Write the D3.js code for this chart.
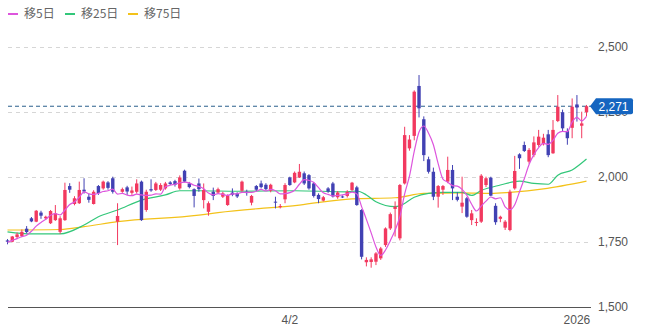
<!DOCTYPE html>
<html>
<head>
<meta charset="utf-8">
<script src="https://cdn.jsdelivr.net/npm/d3@7"></script>
<style>
  body { margin: 0; background: #fff; }
  svg { display: block; }
</style>
</head>
<body>
<svg id="chart" width="649" height="332"></svg>
<script>
// daily candles, oldest first
const opens = [1755,1750,1768,1772,1800,1840,1827,1862,1840,1821,1833,1788,1833,1964,1895,1898,1950,1923,1895,1964,
  1955,1978,1994,1827,1942,1959,1938,1942,1981,1872,1952,1949,1950,1955,1978,1983,1955,2023,1974,1952,
  1974,1910,1865,1942,1939,1923,1891,1939,1936,1946,1942,1900,1964,1974,1969,1946,1904,1883,1913,1997,
  1978,1997,2013,2006,1974,1930,1908,1955,1974,1921,1924,1926,1949,1959,1872,1671,1672,1673,1686,1737,
  1801,1876,1763,1974,2109,2157,2349,2221,2067,2019,1923,1950,1981,2026,1923,1885,1917,1833,1822,1827,
  1968,1996,1888,1838,1804,1795,1955,2086,2122,2058,2083,2122,2125,2163,2090,2214,2248,2176,2188,2278,
  2196,2248];
const highs = [1760,1772,1785,1797,1810,1845,1872,1869,1850,1872,1891,1848,1977,1975,1925,1981,1994,1935,1948,1968,
  1985,1983,2000,1898,1958,1965,1962,1990,1985,1950,1990,1980,1975,1980,1983,1988,2005,2027,1980,1955,
  1993,1974,1905,1958,1958,1942,1932,1955,1940,1985,1950,1930,1968,1985,1975,1973,1923,1895,1975,2000,
  2020,2049,2020,2010,1980,1936,1926,1960,1980,1945,1928,1948,1980,1965,1875,1690,1690,1710,1730,1805,
  1862,1905,1972,2192,2160,2332,2391,2232,2077,2035,1968,1968,2077,2045,1940,2000,1922,1872,1840,2010,
  2000,2000,1898,1850,1833,1950,2080,2090,2135,2110,2155,2180,2165,2180,2218,2314,2258,2186,2301,2314,
  2250,2276];
const lows = [1740,1748,1760,1767,1782,1825,1825,1838,1835,1818,1830,1780,1830,1938,1890,1895,1935,1900,1893,1930,
  1950,1950,1935,1737,1938,1930,1930,1935,1830,1865,1942,1945,1945,1950,1968,1962,1950,1978,1955,1882,
  1942,1878,1850,1910,1935,1918,1888,1925,1918,1942,1927,1890,1945,1955,1948,1940,1878,1878,1898,1965,
  1975,1995,1968,1950,1920,1898,1905,1938,1920,1915,1918,1920,1945,1888,1682,1655,1650,1660,1680,1730,
  1795,1770,1755,1970,2100,2140,2228,2060,2012,1910,1881,1930,1975,1910,1905,1860,1842,1814,1810,1822,
  1960,1925,1815,1825,1795,1790,1950,2030,2095,2050,2075,2115,2120,2075,2088,2210,2175,2123,2148,2212,
  2148,2232];
const closes = [1750,1770,1778,1788,1787,1828,1869,1850,1846,1868,1859,1840,1949,1950,1917,1949,1943,1911,1942,1937,
  1981,1957,1942,1849,1952,1943,1947,1974,1833,1942,1947,1974,1968,1974,1972,1969,1997,1981,1960,1926,
  1952,1949,1898,1926,1952,1936,1926,1931,1924,1981,1937,1926,1950,1960,1952,1969,1901,1887,1968,1968,
  2015,2019,1974,1955,1926,1914,1921,1943,1924,1939,1921,1942,1977,1891,1692,1680,1682,1705,1724,1801,
  1856,1885,1968,2160,2143,2327,2263,2083,2019,1923,1964,1964,2026,1955,1911,1900,1846,1859,1826,2004,
  1994,1927,1825,1846,1827,1942,2022,2071,2099,2103,2132,2154,2150,2083,2180,2269,2186,2148,2269,2266,
  2205,2271];

// moving averages
const ma5 = [1748,1755,1762,1770,1775,1790,1810,1824,1836,1852,
  1858,1853,1872,1893,1903,1921,1942,1934,1932,1936,
  1943,1946,1952,1933,1936,1929,1927,1933,1930,1928,
  1929,1934,1933,1961,1967,1971,1976,1979,1976,1967,
  1963,1954,1937,1930,1935,1932,1928,1934,1934,1940,
  1940,1940,1944,1951,1945,1951,1946,1934,1935,1939,
  1948,1971,1989,1986,1978,1958,1938,1932,1926,1928,
  1930,1934,1941,1934,1885,1836,1784,1730,1697,1718,
  1754,1794,1847,1934,2002,2097,2172,2195,2167,2123,
  2050,1991,1979,1966,1964,1951,1928,1894,1868,1887,
  1906,1922,1915,1919,1884,1873,1892,1942,1992,2047,
  2085,2112,2128,2124,2140,2167,2174,2173,2210,2228,
  2215,2232];
const ma25Idx = [0,5,11,16,19,23,28,33,36,40,48,60,71,73,75,77,81,82,85,88,91,95,97,99,103,107,110,113,115,118,121];
const ma25Val = [1788,1780,1780,1814,1846,1872,1910,1930,1946,1946,1944,1946,1942,1945,1930,1904,1885,1888,1921,1936,1940,1940,1928,1947,1968,1983,1974,1971,2006,2026,2068];
const ma75Idx = [0,11,16,23,40,44,61,72,81,87,95,101,105,112,121];
const ma75Val = [1795,1797,1808,1827,1852,1862,1891,1915,1919,1936,1938,1936,1940,1953,1983];

const yTicks = [1500, 1750, 2000, 2250, 2500];
const xLabelIdx = [59, 119];
const xLabelText = ["4/2", "2026"];
const lastPrice = 2271;

const legendNames = ["移5日", "移25日", "移75日"];
const legendColors = ["#dd55dd", "#33c77a", "#f3c21a"];

const svg = d3.select("#chart");
const n = closes.length;

const x = d3.scaleLinear().domain([0, n - 1]).range([7.5, 586.5]);
const y = d3.scaleLinear().domain([1500, 2500]).range([306.7, 46.7]);

const left = 8, right = 591;

// grid
svg.append("g").selectAll("line")
  .data(yTicks.filter(d => d !== 1500))
  .join("line")
  .attr("x1", left).attr("x2", right)
  .attr("y1", d => Math.round(y(d)) + 0.5).attr("y2", d => Math.round(y(d)) + 0.5)
  .attr("stroke", "#d6d6d6")
  .attr("stroke-dasharray", "4,4");

// y labels
svg.append("g").selectAll("text")
  .data(yTicks)
  .join("text")
  .attr("x", 598)
  .attr("y", d => y(d))
  .attr("dy", "0.35em")
  .attr("font-family", "'Liberation Sans', Arial, sans-serif")
  .attr("font-size", 12)
  .attr("fill", "#555")
  .text(d => d3.format(",")(d));

// bottom axis line
svg.append("line")
  .attr("x1", left).attr("x2", right)
  .attr("y1", Math.round(y(1500)) + 0.5).attr("y2", Math.round(y(1500)) + 0.5)
  .attr("stroke", "#555");

svg.append("g").selectAll("text")
  .data(xLabelIdx)
  .join("text")
  .attr("x", d => x(d))
  .attr("y", 324)
  .attr("text-anchor", "middle")
  .attr("font-family", "'Liberation Sans', Arial, sans-serif")
  .attr("font-size", 12)
  .attr("fill", "#555")
  .text((d, i) => xLabelText[i]);

// current price line
svg.append("line")
  .attr("x1", left).attr("x2", right)
  .attr("y1", y(lastPrice)).attr("y2", y(lastPrice))
  .attr("stroke", "#2b5f8c")
  .attr("stroke-dasharray", "4,3");

// moving average lines
const line = d3.line().x(d => x(d[0])).y(d => y(d[1])).curve(d3.curveMonotoneX);

svg.append("path")
  .attr("d", line(ma75Idx.map((d, i) => [d, ma75Val[i]])))
  .attr("fill", "none").attr("stroke", legendColors[2]).attr("stroke-width", 1.2);
svg.append("path")
  .attr("d", line(ma25Idx.map((d, i) => [d, ma25Val[i]])))
  .attr("fill", "none").attr("stroke", legendColors[1]).attr("stroke-width", 1.2);

// candles
const upColor = "#f2395f", downColor = "#4141b3";
const candles = svg.append("g").selectAll("g")
  .data(d3.range(n))
  .join("g")
  .attr("fill", i => closes[i] >= opens[i] ? upColor : downColor)
  .attr("stroke", i => closes[i] >= opens[i] ? upColor : downColor);

candles.append("line")
  .attr("x1", i => x(i)).attr("x2", i => x(i))
  .attr("y1", i => y(highs[i])).attr("y2", i => y(lows[i]))
  .attr("stroke-width", 1);

candles.append("rect")
  .attr("x", i => x(i) - 1.7)
  .attr("width", 3.4)
  .attr("y", i => y(Math.max(opens[i], closes[i])))
  .attr("height", i => Math.max(1, Math.abs(y(opens[i]) - y(closes[i]))))
  .attr("stroke", "none");

svg.append("path")
  .attr("d", line(ma5.map((d, i) => [i, d])))
  .attr("fill", "none").attr("stroke", legendColors[0]).attr("stroke-width", 1.2);

// price badge
const py = y(lastPrice);
svg.append("path")
  .attr("d", `M590,${py} L596,${py - 8} L631,${py - 8} Q633,${py - 8} 633,${py - 6} L633,${py + 6} Q633,${py + 8} 631,${py + 8} L596,${py + 8} Z`)
  .attr("fill", "#1565c0");
svg.append("text")
  .attr("x", 613.5).attr("y", py).attr("dy", "0.36em")
  .attr("text-anchor", "middle")
  .attr("font-family", "'Liberation Sans', Arial, sans-serif")
  .attr("font-size", 12)
  .attr("fill", "#fff")
  .text(d3.format(",")(lastPrice));

// legend
const lg = svg.append("g").selectAll("g")
  .data(legendNames)
  .join("g")
  .attr("transform", (d, i) => `translate(${[8, 65, 128][i]},14)`);
lg.append("line")
  .attr("x1", 0).attr("x2", 10)
  .attr("stroke", (d, i) => legendColors[i]).attr("stroke-width", 2);
lg.append("text")
  .attr("x", 16).attr("dy", "0.35em")
  .attr("font-family", "'Noto Sans CJK JP', sans-serif")
  .attr("font-size", 12)
  .attr("fill", "#666")
  .text(d => d);
</script>
</body>
</html>
